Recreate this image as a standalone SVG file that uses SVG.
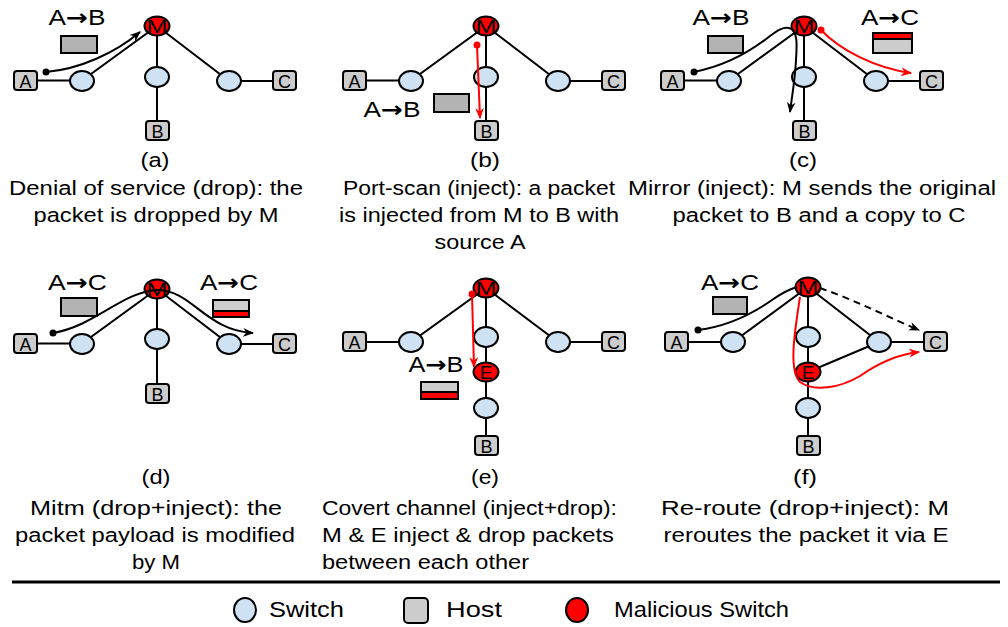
<svg xmlns="http://www.w3.org/2000/svg" width="1008" height="627" viewBox="0 0 1008 627">
<style>
.e{stroke:#000;stroke-width:2;fill:none}
.sw{fill:#cfe2f3;stroke:#000;stroke-width:2}
.mal{fill:#ff0000;stroke:#000;stroke-width:2}
.host{fill:#cccccc;stroke:#000;stroke-width:2}
.pk{fill:#b3b3b3;stroke:#000;stroke-width:2}
.lt{fill:#cccccc;stroke:#000;stroke-width:2}
.rd{fill:#ff0000;stroke:#000;stroke-width:2}
.fl{fill:none;stroke:#000;stroke-width:2}
.fr{fill:none;stroke:#ff0000;stroke-width:2}
.t{font-family:"Liberation Sans",Arial,sans-serif;fill:#000}
.nl{font-size:18px;text-anchor:middle}
.ml{font-size:19px;text-anchor:middle}
.ab{font-size:22px;text-anchor:middle}
.ar{font-family:"DejaVu Sans",sans-serif;font-weight:bold}
.cap{font-size:20px;text-anchor:middle}
.capl{font-size:20px}
.lg{font-size:22px}
</style>
<defs>
<marker id="ah" viewBox="0 0 10 10" refX="9" refY="5" markerWidth="11" markerHeight="11" markerUnits="userSpaceOnUse" orient="auto"><path d="M0,1 L10,5 L0,9 L3,5 z" fill="#000"/></marker>
<marker id="ahr" viewBox="0 0 10 10" refX="9" refY="5" markerWidth="11" markerHeight="11" markerUnits="userSpaceOnUse" orient="auto"><path d="M0,1 L10,5 L0,9 L3,5 z" fill="#ff0000"/></marker>
</defs>

<!-- topology edges -->
<g id="edges" class="e">
<path d="M25,80.5 H82 L157,26 V131 M157,26 L229,81 H284"/>
<path d="M354,80.5 H411 L486,26 V131 M486,26 L558,81 H613"/>
<path d="M672,80.5 H729 L804,26 V131 M804,26 L876,81 H931"/>
<path d="M25,343.5 H82 L157,289 V394 M157,289 L229,344 H284"/>
<path d="M354,342 H411 L486,288 V446 M486,288 L558,342 H613"/>
<path d="M676,342 H733 L808,287 V446 M808,287 L879,342 H935 M808,372 L879,342"/>
</g>

<!-- panel a -->
<g id="a-A"><rect class="host" x="14" y="71" width="23" height="19" rx="3"/><text class="t nl" x="25.5" y="87.5">A</text></g>
<g id="a-B"><rect class="host" x="146" y="121" width="23" height="19" rx="3"/><text class="t nl" x="157.5" y="137.5">B</text></g>
<g id="a-C"><rect class="host" x="273" y="71" width="23" height="19" rx="3"/><text class="t nl" x="284.5" y="87.5">C</text></g>
<g id="a-S1"><ellipse class="sw" cx="82" cy="81" rx="12" ry="10"/></g>
<g id="a-S2"><ellipse class="sw" cx="157" cy="77" rx="12" ry="10"/></g>
<g id="a-S3"><ellipse class="sw" cx="229" cy="81" rx="12" ry="10"/></g>
<g id="a-M"><ellipse class="mal" cx="157" cy="26" rx="12.5" ry="9.5"/><text class="t ml" x="157" y="33" textLength="21" lengthAdjust="spacingAndGlyphs">M</text></g>

<!-- panel b -->
<g id="b-A"><rect class="host" x="343" y="71" width="23" height="19" rx="3"/><text class="t nl" x="354.5" y="87.5">A</text></g>
<g id="b-B"><rect class="host" x="475" y="121" width="23" height="19" rx="3"/><text class="t nl" x="486.5" y="137.5">B</text></g>
<g id="b-C"><rect class="host" x="602" y="71" width="23" height="19" rx="3"/><text class="t nl" x="613.5" y="87.5">C</text></g>
<g id="b-S1"><ellipse class="sw" cx="411" cy="81" rx="12" ry="10"/></g>
<g id="b-S2"><ellipse class="sw" cx="486" cy="77" rx="12" ry="10"/></g>
<g id="b-S3"><ellipse class="sw" cx="558" cy="81" rx="12" ry="10"/></g>
<g id="b-M"><ellipse class="mal" cx="486" cy="26" rx="12.5" ry="9.5"/><text class="t ml" x="486" y="33" textLength="21" lengthAdjust="spacingAndGlyphs">M</text></g>

<!-- panel c -->
<g id="c-A"><rect class="host" x="661" y="71" width="23" height="19" rx="3"/><text class="t nl" x="672.5" y="87.5">A</text></g>
<g id="c-B"><rect class="host" x="793" y="121" width="23" height="19" rx="3"/><text class="t nl" x="804.5" y="137.5">B</text></g>
<g id="c-C"><rect class="host" x="920" y="71" width="23" height="19" rx="3"/><text class="t nl" x="931.5" y="87.5">C</text></g>
<g id="c-S1"><ellipse class="sw" cx="729" cy="81" rx="12" ry="10"/></g>
<g id="c-S2"><ellipse class="sw" cx="804" cy="77" rx="12" ry="10"/></g>
<g id="c-S3"><ellipse class="sw" cx="876" cy="81" rx="12" ry="10"/></g>
<g id="c-M"><ellipse class="mal" cx="804" cy="26" rx="12.5" ry="9.5"/><text class="t ml" x="804" y="33" textLength="21" lengthAdjust="spacingAndGlyphs">M</text></g>

<!-- panel d -->
<g id="d-A"><rect class="host" x="14" y="334" width="23" height="19" rx="3"/><text class="t nl" x="25.5" y="350.5">A</text></g>
<g id="d-B"><rect class="host" x="146" y="384" width="23" height="19" rx="3"/><text class="t nl" x="157.5" y="400.5">B</text></g>
<g id="d-C"><rect class="host" x="273" y="334" width="23" height="19" rx="3"/><text class="t nl" x="284.5" y="350.5">C</text></g>
<g id="d-S1"><ellipse class="sw" cx="82" cy="344" rx="12" ry="10"/></g>
<g id="d-S2"><ellipse class="sw" cx="157" cy="339" rx="12" ry="10"/></g>
<g id="d-S3"><ellipse class="sw" cx="229" cy="344" rx="12" ry="10"/></g>
<g id="d-M"><ellipse class="mal" cx="157" cy="289" rx="12.5" ry="9.5"/><text class="t ml" x="157" y="296" textLength="21" lengthAdjust="spacingAndGlyphs">M</text></g>

<!-- panel e -->
<g id="e-A"><rect class="host" x="343" y="332" width="23" height="19" rx="3"/><text class="t nl" x="354.5" y="348.5">A</text></g>
<g id="e-B"><rect class="host" x="475" y="436" width="23" height="19" rx="3"/><text class="t nl" x="486.5" y="452.5">B</text></g>
<g id="e-C"><rect class="host" x="602" y="332" width="23" height="19" rx="3"/><text class="t nl" x="613.5" y="348.5">C</text></g>
<g id="e-S1"><ellipse class="sw" cx="411" cy="342" rx="12" ry="10"/></g>
<g id="e-S2"><ellipse class="sw" cx="486" cy="337" rx="12" ry="10"/></g>
<g id="e-S3"><ellipse class="sw" cx="558" cy="342" rx="12" ry="10"/></g>
<g id="e-S4"><ellipse class="sw" cx="486" cy="408" rx="12" ry="10"/></g>
<g id="e-M"><ellipse class="mal" cx="486" cy="288" rx="12.5" ry="9.5"/><text class="t ml" x="486" y="295" textLength="21" lengthAdjust="spacingAndGlyphs">M</text></g>
<g id="e-E"><ellipse class="mal" cx="486" cy="372" rx="12.5" ry="9.5"/><text class="t ml" x="486" y="379">E</text></g>

<!-- panel f -->
<g id="f-A"><rect class="host" x="665" y="332" width="23" height="19" rx="3"/><text class="t nl" x="676.5" y="348.5">A</text></g>
<g id="f-B"><rect class="host" x="797" y="436" width="23" height="19" rx="3"/><text class="t nl" x="808.5" y="452.5">B</text></g>
<g id="f-C"><rect class="host" x="924" y="332" width="23" height="19" rx="3"/><text class="t nl" x="935.5" y="348.5">C</text></g>
<g id="f-S1"><ellipse class="sw" cx="733" cy="342" rx="12" ry="10"/></g>
<g id="f-S2"><ellipse class="sw" cx="808" cy="337" rx="12" ry="10"/></g>
<g id="f-S3"><ellipse class="sw" cx="879" cy="342" rx="12" ry="10"/></g>
<g id="f-S4"><ellipse class="sw" cx="808" cy="408" rx="12" ry="10"/></g>
<g id="f-M"><ellipse class="mal" cx="808" cy="287" rx="12.5" ry="9.5"/><text class="t ml" x="808" y="294" textLength="21" lengthAdjust="spacingAndGlyphs">M</text></g>
<g id="f-E"><ellipse class="mal" cx="808" cy="372" rx="12.5" ry="9.5"/><text class="t ml" x="808" y="379">E</text></g>

<!-- packets and labels -->
<g id="packets">
<text class="t ab" x="77" y="25" textLength="57" lengthAdjust="spacingAndGlyphs">A<tspan class="ar">→</tspan>B</text>
<rect class="pk" x="61" y="36" width="36" height="17"/>
<text class="t ab" x="392" y="117" textLength="57" lengthAdjust="spacingAndGlyphs">A<tspan class="ar">→</tspan>B</text>
<rect class="pk" x="434" y="94" width="35" height="18"/>
<text class="t ab" x="721" y="25" textLength="57" lengthAdjust="spacingAndGlyphs">A<tspan class="ar">→</tspan>B</text>
<rect class="pk" x="708" y="36" width="35" height="17"/>
<text class="t ab" x="890" y="25" textLength="58" lengthAdjust="spacingAndGlyphs">A<tspan class="ar">→</tspan>C</text>
<rect class="lt" x="873" y="39" width="39" height="14"/>
<rect class="rd" x="873" y="33" width="39" height="6"/>
<text class="t ab" x="77.5" y="290" textLength="59" lengthAdjust="spacingAndGlyphs">A<tspan class="ar">→</tspan>C</text>
<rect class="pk" x="61" y="298" width="36" height="18"/>
<text class="t ab" x="229" y="290" textLength="58" lengthAdjust="spacingAndGlyphs">A<tspan class="ar">→</tspan>C</text>
<rect class="lt" x="213" y="300" width="36" height="11"/>
<rect class="rd" x="213" y="311" width="36" height="6"/>
<text class="t ab" x="436" y="372" textLength="55" lengthAdjust="spacingAndGlyphs">A<tspan class="ar">→</tspan>B</text>
<rect class="lt" x="421" y="382" width="37" height="10"/>
<rect class="rd" x="421" y="392" width="37" height="7"/>
<text class="t ab" x="730" y="290" textLength="58" lengthAdjust="spacingAndGlyphs">A<tspan class="ar">→</tspan>C</text>
<rect class="pk" x="713" y="297" width="34" height="17"/>
</g>

<!-- flow connectors -->
<g id="flows">
<circle cx="46" cy="72" r="3.5" fill="#000"/>
<path class="fl" d="M46,72 C80,69 115,53 140,32" marker-end="url(#ah)"/>
<circle cx="477" cy="45" r="3.5" fill="#ff0000"/>
<path class="fr" d="M477,45 L480,118" marker-end="url(#ahr)"/>
<circle cx="694" cy="72" r="3.5" fill="#000"/>
<path class="fl" d="M694,72 C730,65 755,48 770,36 C778,30 783,27 789,28 C798,30 797,45 796,60 C795,80 792,96 790,112" marker-end="url(#ah)"/>
<circle cx="821" cy="30" r="3.5" fill="#ff0000"/>
<path class="fr" d="M821,30 C840,50 875,68 911,73" marker-end="url(#ahr)"/>
<circle cx="53" cy="333" r="3.5" fill="#000"/>
<path class="fl" d="M53,333 C95,326 122,292 157,290 C192,290 205,330 253,333" marker-end="url(#ah)"/>
<circle cx="472" cy="294" r="3.5" fill="#ff0000"/>
<path class="fr" d="M472,294 L474,367" marker-end="url(#ahr)"/>
<circle cx="698" cy="330" r="3.5" fill="#000"/>
<path class="fl" d="M698,330 C730,326 755,312 772,300 C782,293 790,289 797,287"/>
<path class="fl" d="M820,288 C855,300 890,318 919,330" stroke-dasharray="7,5" marker-end="url(#ah)"/>
<path class="fr" d="M800,297 C795,330 788,370 800,382 C814,392 840,388 860,376 C880,362 900,354 919,352" marker-end="url(#ahr)"/>
</g>

<!-- captions -->
<g id="captions">
<text class="t cap" x="155" y="167" textLength="29" lengthAdjust="spacingAndGlyphs">(a)</text>
<text class="t cap" x="156" y="195" textLength="294" lengthAdjust="spacingAndGlyphs">Denial of service (drop): the</text>
<text class="t cap" x="156" y="222" textLength="245" lengthAdjust="spacingAndGlyphs">packet is dropped by M</text>

<text class="t cap" x="485" y="167" textLength="30" lengthAdjust="spacingAndGlyphs">(b)</text>
<text class="t cap" x="479" y="195" textLength="272" lengthAdjust="spacingAndGlyphs">Port-scan (inject): a packet</text>
<text class="t cap" x="479" y="222" textLength="280" lengthAdjust="spacingAndGlyphs">is injected from M to B with</text>
<text class="t cap" x="480" y="249" textLength="91" lengthAdjust="spacingAndGlyphs">source A</text>

<text class="t cap" x="803" y="167" textLength="28" lengthAdjust="spacingAndGlyphs">(c)</text>
<text class="t cap" x="812" y="195" textLength="368" lengthAdjust="spacingAndGlyphs">Mirror (inject): M sends the original</text>
<text class="t cap" x="819" y="222" textLength="293" lengthAdjust="spacingAndGlyphs">packet to B and a copy to C</text>

<text class="t cap" x="156" y="484" textLength="29" lengthAdjust="spacingAndGlyphs">(d)</text>
<text class="t cap" x="156" y="515" textLength="252" lengthAdjust="spacingAndGlyphs">Mitm (drop+inject): the</text>
<text class="t cap" x="155" y="542" textLength="280" lengthAdjust="spacingAndGlyphs">packet payload is modified</text>
<text class="t cap" x="156" y="569" textLength="48" lengthAdjust="spacingAndGlyphs">by M</text>

<text class="t cap" x="485" y="484" textLength="28" lengthAdjust="spacingAndGlyphs">(e)</text>
<text class="t capl" x="322" y="515" textLength="295" lengthAdjust="spacingAndGlyphs">Covert channel (inject+drop):</text>
<text class="t capl" x="322" y="542" textLength="292" lengthAdjust="spacingAndGlyphs">M &amp; E inject &amp; drop packets</text>
<text class="t capl" x="322" y="569" textLength="207" lengthAdjust="spacingAndGlyphs">between each other</text>

<text class="t cap" x="805" y="484" textLength="24" lengthAdjust="spacingAndGlyphs">(f)</text>
<text class="t cap" x="805" y="515" textLength="288" lengthAdjust="spacingAndGlyphs">Re-route (drop+inject): M</text>
<text class="t cap" x="806" y="542" textLength="285" lengthAdjust="spacingAndGlyphs">reroutes the packet it via E</text>
</g>

<!-- legend -->
<g id="legend">
<line x1="12" y1="582" x2="1000" y2="582" stroke="#000" stroke-width="3"/>
<ellipse class="sw" cx="245" cy="610" rx="11" ry="12"/>
<text class="t lg" x="269" y="617" textLength="75" lengthAdjust="spacingAndGlyphs">Switch</text>
<rect class="host" x="404" y="598" width="24" height="25" rx="4"/>
<text class="t lg" x="446" y="617" textLength="56" lengthAdjust="spacingAndGlyphs">Host</text>
<ellipse class="mal" cx="577" cy="610" rx="11" ry="12"/>
<text class="t lg" x="614" y="617" textLength="175" lengthAdjust="spacingAndGlyphs">Malicious Switch</text>
</g>
</svg>
